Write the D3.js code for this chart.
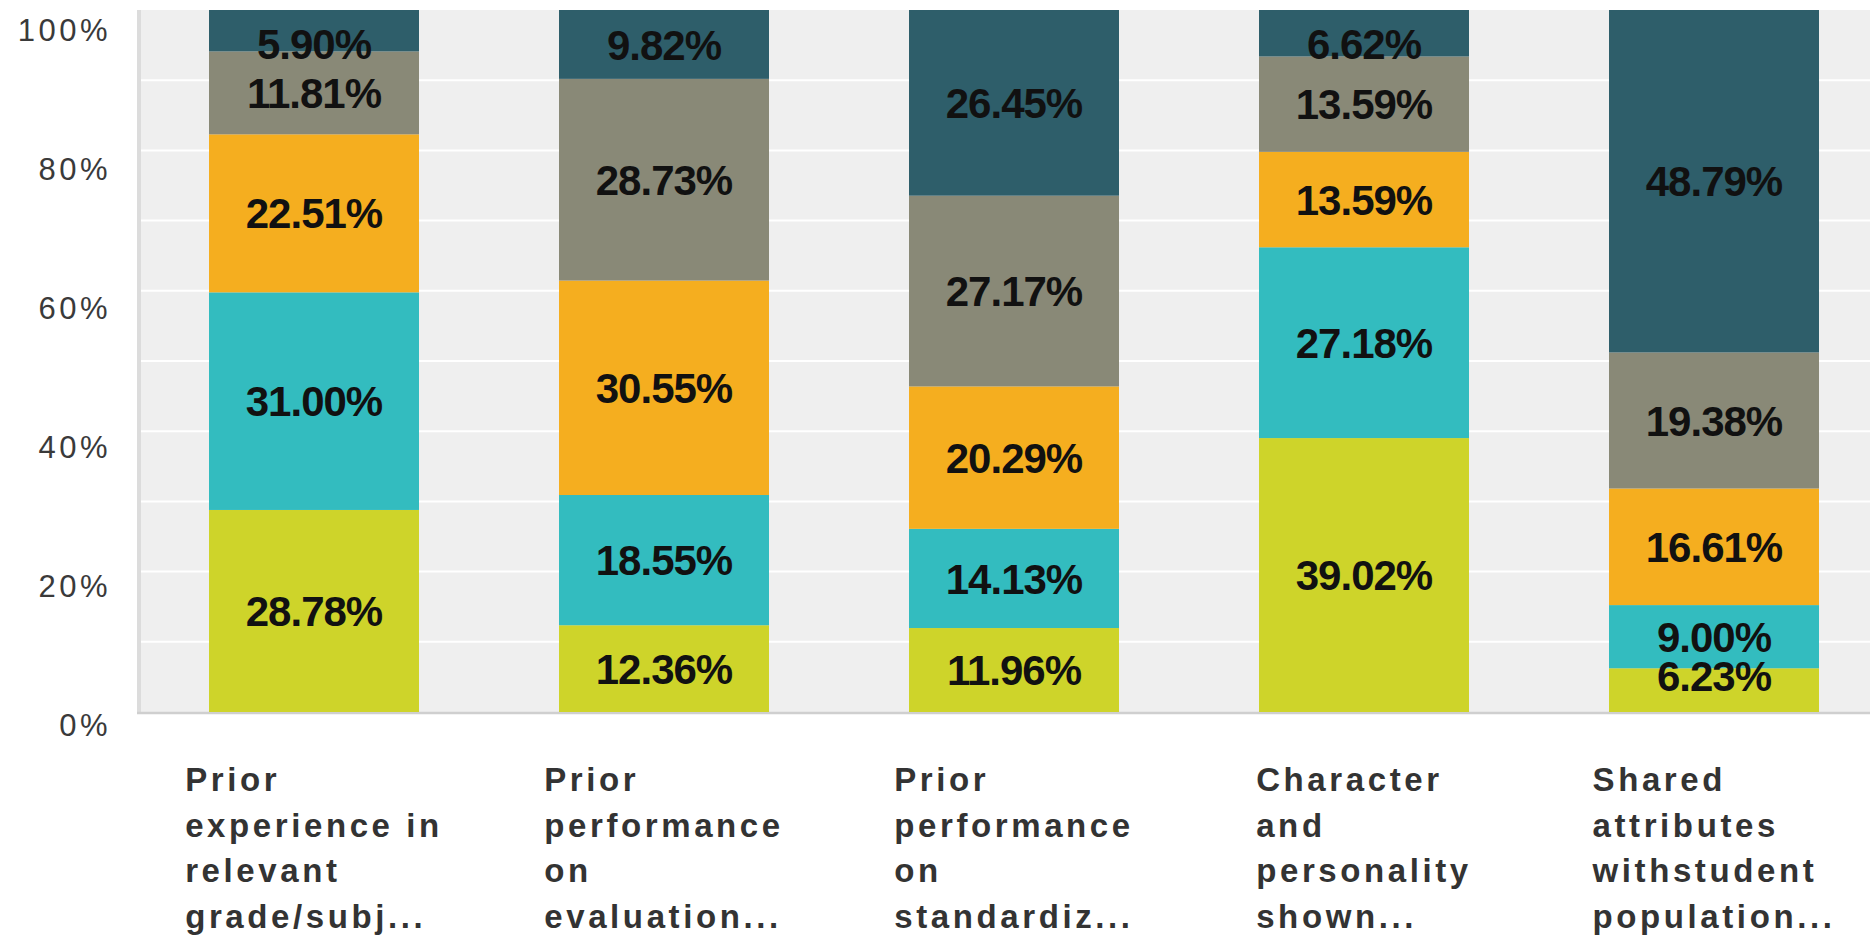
<!DOCTYPE html>
<html>
<head>
<meta charset="utf-8">
<script src="https://cdn.jsdelivr.net/npm/d3@7"></script>
<style>
  html, body { margin: 0; padding: 0; background: #ffffff; }
  svg { display: block; }
</style>
</head>
<body>
<div id="stacked-chart"></div>
<script>
// category labels, already wrapped the way the chart shows them
var categories = [
    ["Prior", "experience in", "relevant", "grade/subj..."],
    ["Prior", "performance", "on", "evaluation..."],
    ["Prior", "performance", "on", "standardiz..."],
    ["Character", "and", "personality", "shown..."],
    ["Shared", "attributes", "withstudent", "population..."]
];

// series keys, bottom of the stack first
var seriesKeys = ["s1", "s2", "s3", "s4", "s5"];

// percent values per series, one number per category
var s1 = [28.78, 12.36, 11.96, 39.02, 6.23];
var s2 = [31.00, 18.55, 14.13, 27.18, 9.00];
var s3 = [22.51, 30.55, 20.29, 13.59, 16.61];
var s4 = [11.81, 28.73, 27.17, 13.59, 19.38];
var s5 = [5.90, 9.82, 26.45, 6.62, 48.79];

var yTicks = [0, 20, 40, 60, 80, 100];
var gridTicks = [10, 20, 30, 40, 50, 60, 70, 80, 90];

var drawGraph = function(){

    var colors = ["#ced42a", "#33bcbf", "#f5ae1f", "#898977", "#2e5e6a"];
    var plotBg = "#efefef";

    const width = 1870;
    const height = 936;

    var svg = d3.select('#stacked-chart')
        .append('svg')
        .attr("width", width)
        .attr("height", height);

    // build rows for d3.stack from the arrays above
    var seriesValues = [s1, s2, s3, s4, s5];
    var rows = categories.map(function(c, i){
        var row = {idx: i};
        seriesKeys.forEach(function(k, j){ row[k] = seriesValues[j][i]; });
        return row;
    });
    var stacked = d3.stack().keys(seriesKeys)(rows);

    var x = d3.scaleBand()
        .domain(d3.range(categories.length))
        .range([139, 1889])
        .paddingInner(0.4)
        .paddingOuter(0.2);

    var y = d3.scaleLinear()
        .domain([0, 100])
        .range([712, 10]);

    // tick labels sit a little below their gridlines
    var yLabel = d3.scaleLinear()
        .domain([0, 100])
        .range([725, 30]);

    var color = d3.scaleOrdinal().domain(seriesKeys).range(colors);

    // plot background
    svg.append("rect")
        .attr("x", x.range()[0])
        .attr("y", y(100))
        .attr("width", width - x.range()[0])
        .attr("height", y(0) - y(100))
        .attr("fill", plotBg);

    // white gridlines
    svg.append("g").selectAll("line")
        .data(gridTicks)
        .enter().append("line")
        .attr("x1", x.range()[0])
        .attr("x2", width)
        .attr("y1", function(d){ return y(d); })
        .attr("y2", function(d){ return y(d); })
        .attr("stroke", "#ffffff")
        .attr("stroke-width", 2);

    // axis lines
    svg.append("line")
        .attr("x1", x.range()[0]).attr("x2", x.range()[0])
        .attr("y1", y(100)).attr("y2", y(0) + 1)
        .attr("stroke", "#dcdcdc")
        .attr("stroke-width", 4);
    svg.append("line")
        .attr("x1", x.range()[0] - 2).attr("x2", width)
        .attr("y1", y(0) + 1).attr("y2", y(0) + 1)
        .attr("stroke", "#cfcfcf")
        .attr("stroke-width", 2.5);

    // y tick labels
    svg.append("g").selectAll("text")
        .data(yTicks)
        .enter().append("text")
        .attr("x", 111)
        .attr("y", function(d){ return yLabel(d); })
        .attr("dy", "0.36em")
        .attr("text-anchor", "end")
        .style("font-family", "'Liberation Sans', Arial, sans-serif")
        .style("font-size", "31px")
        .style("letter-spacing", "3.5px")
        .style("fill", "#3a3a3a")
        .text(function(d){ return d + "%"; });

    // stacked bars
    var layers = svg.append("g").selectAll("g")
        .data(stacked)
        .enter().append("g")
        .attr("fill", function(d){ return color(d.key); });

    layers.selectAll("rect")
        .data(function(d){ return d; })
        .enter().append("rect")
        .attr("x", function(d){ return x(d.data.idx); })
        .attr("y", function(d){ return y(Math.min(d[1], 100)); })
        .attr("width", x.bandwidth())
        .attr("height", function(d){ return y(d[0]) - y(Math.min(d[1], 100)); });

    // value labels, kept inside the plot area
    var labels = svg.append("g");
    stacked.forEach(function(layer){
        layer.forEach(function(d){
            var mid = (y(d[0]) + y(Math.min(d[1], 100))) / 2;
            var cy = Math.max(y(100) + 34, Math.min(y(0) - 36, mid));
            labels.append("text")
                .attr("x", x(d.data.idx) + x.bandwidth() / 2)
                .attr("y", cy)
                .attr("dy", "0.36em")
                .attr("text-anchor", "middle")
                .style("font-family", "'Liberation Sans', Arial, sans-serif")
                .style("font-weight", "bold")
                .style("font-size", "42px")
                .style("letter-spacing", "-1px")
                .style("fill", "#111111")
                .text(d.data[layer.key].toFixed(2) + "%");
        });
    });

    // category labels: left aligned lines, block centred under its bar
    var catGroups = svg.append("g").selectAll("g")
        .data(categories)
        .enter().append("g");

    catGroups.each(function(lines, i){
        var g = d3.select(this);
        var t = g.append("text")
            .style("font-family", "'Liberation Sans', Arial, sans-serif")
            .style("font-weight", "bold")
            .style("font-size", "33px")
            .style("letter-spacing", "3.6px")
            .style("fill", "#333333");
        t.selectAll("tspan")
            .data(lines)
            .enter().append("tspan")
            .attr("x", 0)
            .attr("y", function(d, k){ return 791 + k * 45.5; })
            .text(function(d){ return d; });
        var maxW = d3.max(t.selectAll("tspan").nodes(), function(n){ return n.getComputedTextLength(); });
        g.attr("transform", "translate(" + (x(i) + x.bandwidth() / 2 - maxW / 2) + ",0)");
    });

}

//call function to draw the graph
drawGraph();
</script>
</body>
</html>
